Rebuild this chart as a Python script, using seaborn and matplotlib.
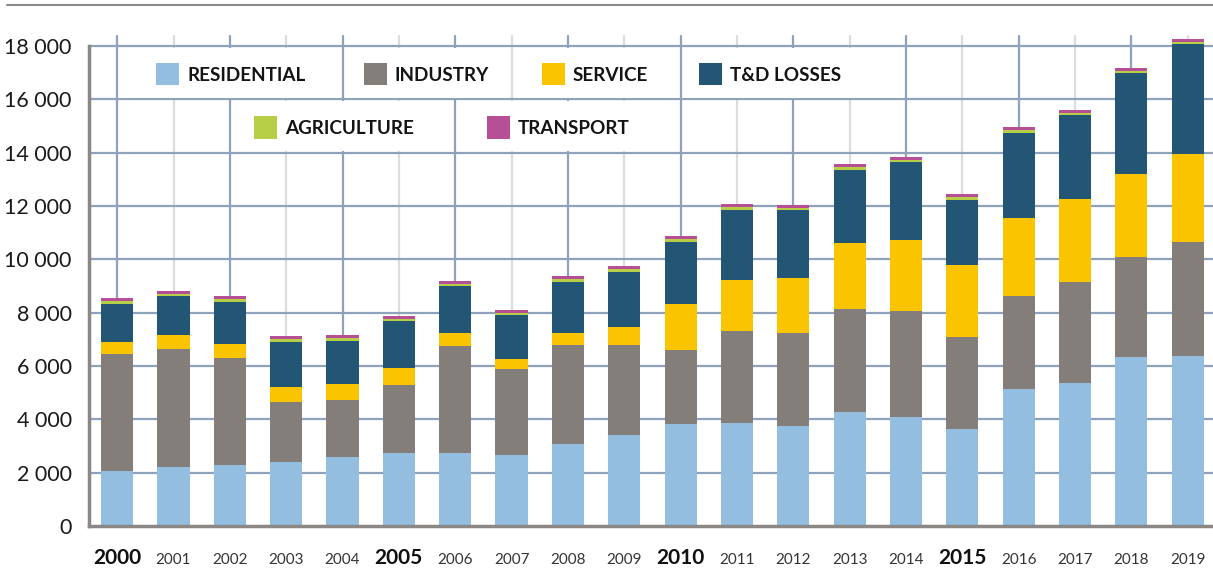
import matplotlib
matplotlib.use("Agg")
import matplotlib.pyplot as plt
from matplotlib.patches import Rectangle
from matplotlib.lines import Line2D
import pandas as pd
import seaborn as sns

years = [str(y) for y in range(2000, 2020)]
residential = [2050, 2210, 2290, 2400, 2575, 2740, 2740, 2660, 3075, 3410,
               3825, 3860, 3750, 4275, 4090, 3640, 5140, 5360, 6340, 6375]
industry = [4400, 4430, 4010, 2250, 2150, 2550, 4010, 3230, 3710, 3380,
            2775, 3450, 3490, 3860, 3970, 3450, 3485, 3790, 3750, 4275]
service = [450, 525, 525, 560, 600, 640, 490, 375, 450, 675,
           1725, 1910, 2060, 2475, 2660, 2700, 2925, 3110, 3110, 3300]
td_losses = [1425, 1460, 1575, 1690, 1610, 1760, 1760, 1650, 1910, 2060,
             2325, 2625, 2550, 2740, 2925, 2440, 3190, 3150, 3790, 4125]
agriculture = [110, 75, 110, 110, 110, 75, 75, 75, 110, 110,
               110, 110, 75, 110, 75, 110, 110, 75, 75, 75]
transport = [110, 110, 110, 110, 100, 110, 110, 110, 110, 110,
             110, 110, 110, 110, 110, 110, 110, 110, 110, 110]

sectors = ["RESIDENTIAL", "INDUSTRY", "SERVICE", "T&D LOSSES", "AGRICULTURE", "TRANSPORT"]
colors = ["#94bee0", "#837e7a", "#fac400", "#235674", "#b6cf46", "#b74f96"]

sns.set_style("white")
plt.rcParams["font.family"] = ["Lato", "DejaVu Sans"]

df = pd.DataFrame({"year": years, "RESIDENTIAL": residential, "INDUSTRY": industry,
                   "SERVICE": service, "T&D LOSSES": td_losses,
                   "AGRICULTURE": agriculture, "TRANSPORT": transport})
cum = df[sectors].cumsum(axis=1)

fig = plt.figure(figsize=(12.13, 5.88), dpi=100)
ax = fig.add_axes([89 / 1213, 62 / 588, 1 - 89 / 1213, 480 / 588])

grid_blue = "#8fa2bc"
grid_grey = "#dcdcdc"
axis_grey = "#8b8784"

# grid
for i in range(len(years)):
    ax.plot([i, i], [0, 18380], color=grid_blue if i % 2 == 0 else grid_grey,
            lw=1.6, zorder=0.5, clip_on=False)
for v in range(2000, 18001, 2000):
    ax.axhline(v, color=grid_blue, lw=1.6, zorder=0.6, clip_on=False)

# stacked bars: draw cumulative totals from the top down
for s, c in reversed(list(zip(sectors, colors))):
    sns.barplot(x=df["year"], y=cum[s], color=c, width=0.57, saturation=1,
                linewidth=0, ax=ax, zorder=2)
for p in ax.patches:
    p.set_clip_on(False)

ax.set_xlim(-0.5, 19.45)
ax.set_ylim(0, 18000)
ax.set_xlabel("")
ax.set_ylabel("")

# legend cells sitting in the grid
cells = [("RESIDENTIAL", 0, 4, 0.69, 16950),
         ("INDUSTRY", 4, 7, 4.38, 16950),
         ("SERVICE", 7, 10, 7.54, 16950),
         ("T&D LOSSES", 10, 14, 10.33, 16950),
         ("AGRICULTURE", 2, 6, 2.43, 14950),
         ("TRANSPORT", 6, 10, 6.56, 14950)]
for (label, x0, x1, px, yc), c in zip(cells, colors):
    mid = 17000 if yc > 16000 else 15000
    ax.add_patch(Rectangle((x0 + 0.04, mid - 940), x1 - x0 - 0.08, 1880,
                           facecolor="white", edgecolor="none", zorder=1))
    ax.add_patch(Rectangle((px, yc - 431), 0.41, 862, facecolor=c,
                           edgecolor="none", zorder=3))
    ax.text(px + 0.55, yc - 60, label, fontsize=13.6, fontweight="bold", color="#141414",
            va="center", ha="left", zorder=4)

# axes styling
for side in ["top", "right"]:
    ax.spines[side].set_visible(False)
for side in ["left", "bottom"]:
    ax.spines[side].set_color(axis_grey)
    ax.spines[side].set_linewidth(2.5)
    ax.spines[side].set_zorder(5)

yt = list(range(0, 18001, 2000))
ax.set_yticks(yt)
ax.set_yticklabels([f"{v:,}".replace(",", " ") for v in yt], fontsize=15.5, color="#1a1a1a")
ax.tick_params(axis="y", length=6.5, width=2, color=axis_grey, pad=6)

ax.set_xticks(range(len(years)))
ax.set_xticklabels(years)
ax.tick_params(axis="x", length=0, pad=27)
for lab in ax.get_xticklabels():
    lab.set_va("baseline")
    if int(lab.get_text()) % 5 == 0:
        lab.set_fontsize(15)
        lab.set_fontweight("bold")
        lab.set_color("#111111")
    else:
        lab.set_fontsize(11)
        lab.set_color("#333333")

fig.add_artist(Line2D([7 / 1213, 1], [1 - 5 / 588, 1 - 5 / 588], color="#8a8a8a",
                      lw=1.5, transform=fig.transFigure))

plt.savefig("out.png", dpi=100)
